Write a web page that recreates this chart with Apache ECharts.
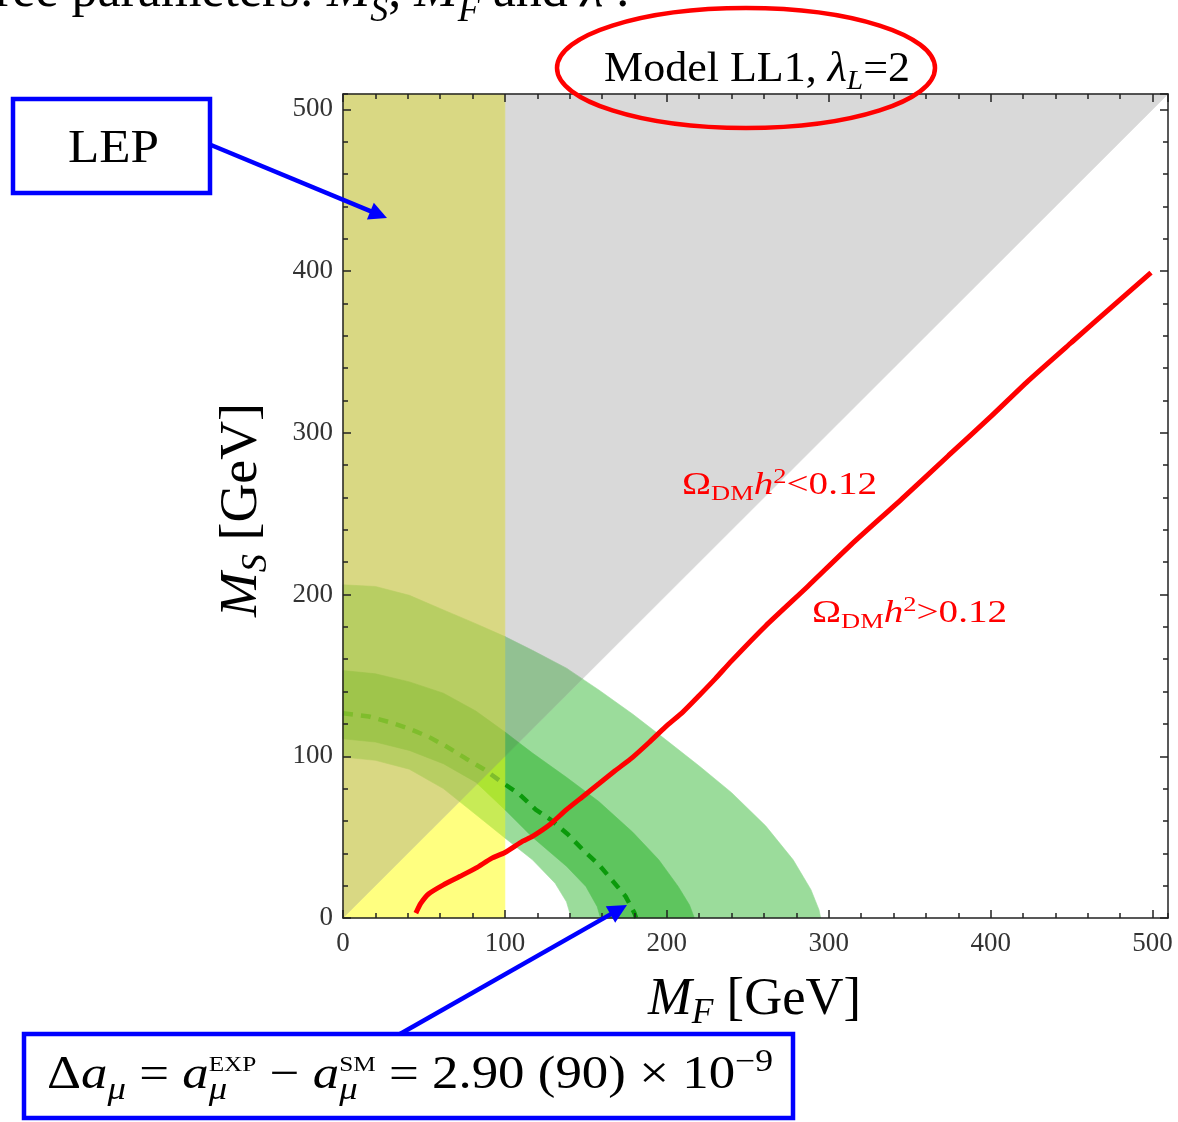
<!DOCTYPE html>
<html><head><meta charset="utf-8">
<script src="https://cdn.jsdelivr.net/npm/echarts@6/dist/echarts.min.js"></script>
<style>html,body{margin:0;padding:0;background:#fff}#c{width:1178px;height:1122px}</style>
</head><body><div id="c"></div>
<script>
// ---------------- data ----------------
const AXIS_MAX = 509.5;
const LEP_MAX = 100;                       // LEP bound on M_F
const majorTicks = [0, 100, 200, 300, 400, 500];
const minorTicks = [0,20,40,60,80,100,120,140,160,180,200,220,240,260,280,300,320,340,360,380,400,420,440,460,480,500];
// Delta a_mu bands, boundaries as [M_F, M_S]
const outer2s = [[0,206],[20,205],[41,199.5],[62,190.5],[82,182],[100,174],[117,165.5],[138,154.5],[158,141],[179,126],[199,110.5],[220,94],[240,77.5],[261,57],[278,36],[289,17.5],[294,5],[295,0]];
const inner2s = [[0,99.5],[20,97.5],[41,92],[62,80],[72,72],[82,64],[100,49.5],[117,36],[131,21.5],[138,10],[141,0]];
const outer1s = [[0,153],[20,151],[41,146],[62,139],[82,128],[100,115],[117,102],[138,87],[158,72],[179,53],[195,36],[207,19.5],[214,8],[217,0]];
const inner1s = [[0,110.8],[20,108.8],[41,103.6],[62,95.4],[82,84],[100,67],[117,50],[138,32],[150,19.5],[157,7],[159,0]];
const centralLine = [[0,126.6],[16,124.6],[29,121],[41,117],[53,112],[64,106],[76,98.5],[87,92],[98,84],[109,76.5],[119,67],[128,61],[139,51.6],[148,42.3],[158,33],[166,23.6],[174.5,13.4],[180,3],[181,0]];
// relic density curve Omega h^2 = 0.12
const relicCurve = [[45,3],[48,9],[53,15],[62,20.5],[72,25.6],[82,30.8],[92,37],[100,40.5],[111,47.5],[117,50.5],[128,58],[138,67],[148,75],[158,83],[168,91],[179,99.5],[189,108.5],[199,118],[210,127.5],[220,137.6],[230,148],[240,159],[261,180.6],[287,205],[314,231],[345,259],[374,286],[400,310],[423,332],[450,356],[475,378],[499,399]];

// ---------------- region construction ----------------
const plotRect = [[0,0],[AXIS_MAX,0],[AXIS_MAX,AXIS_MAX],[0,AXIS_MAX]];
const band2 = outer2s.concat(inner2s.slice().reverse());
const band1 = outer1s.concat(inner1s.slice().reverse());
function clip(poly, f) {
  const out = [];
  for (let i = 0; i < poly.length; i++) {
    const a = poly[i], b = poly[(i + 1) % poly.length];
    const fa = f(a), fb = f(b);
    if (fa >= 0) out.push(a);
    if ((fa >= 0) !== (fb >= 0)) {
      const t = fa / (fa - fb);
      out.push([a[0] + t * (b[0] - a[0]), a[1] + t * (b[1] - a[1])]);
    }
  }
  return out;
}
const quads = {
  white:  [p => p[0] - LEP_MAX, p => p[0] - p[1]],
  gray:   [p => p[0] - LEP_MAX, p => p[1] - p[0]],
  yellow: [p => LEP_MAX - p[0], p => p[0] - p[1]],
  olive:  [p => LEP_MAX - p[0], p => p[1] - p[0]]
};
const palettes = [
  { poly: plotRect, c: { white: '#ffffff', gray: '#d9d9d9', yellow: '#ffff80', olive: '#d9d883' } },
  { poly: band2,    c: { white: '#9bdc9b', gray: '#92c192', yellow: '#c8eb56', olive: '#b8ce63' } },
  { poly: band1,    c: { white: '#5ec55e', gray: '#5bb25b', yellow: '#ade432', olive: '#9fc54b' } }
];
const layers = [];
palettes.forEach(P => {
  Object.keys(quads).forEach(k => {
    let p = P.poly;
    quads[k].forEach(f => { p = clip(p, f); });
    if (p.length >= 3) layers.push({ poly: p, color: P.c[k] });
  });
});

// ---------------- text helpers ----------------
const SERIF = '"Liberation Serif", "Times New Roman", serif';
const cv = document.createElement('canvas').getContext('2d');
function runsGroup(runs, o) {
  let x = 0; const els = []; let ov = null;
  for (const r of runs) {
    const f = (r.italic ? 'italic ' : '') + r.size + 'px ' + SERIF;
    cv.font = f;
    cv.textBaseline = 'alphabetic';
    const w = cv.measureText(r.t).width;
    const a1 = cv.measureText('H').actualBoundingBoxAscent;
    cv.textBaseline = 'middle';
    const a2 = cv.measureText('H').actualBoundingBoxAscent;
    cv.textBaseline = 'alphabetic';
    els.push({ type: 'text', x: x, y: (r.dy || 0) - (a1 - a2) - 0.035 * r.size, z: 100,
      style: { text: r.t, font: f, fill: o.color || '#000', align: 'left', verticalAlign: 'middle' } });
    if (r.overlay) { ov = { x: x, w: w }; continue; }
    if (ov) { x = ov.x + Math.max(ov.w, w); ov = null; } else x += w;
  }
  const W = x;
  const sx = o.width ? o.width / W : 1;
  const off = o.align === 'center' ? -W / 2 : (o.align === 'right' ? -W : 0);
  els.forEach(e => { e.x += off; });
  return { type: 'group', x: o.x, y: o.y, rotation: o.rotation || 0, scaleX: sx, z: 100, children: els };
}
function arrow(x1, y1, x2, y2, len, hw, color, lw) {
  const dx = x2 - x1, dy = y2 - y1, d = Math.hypot(dx, dy), ux = dx / d, uy = dy / d;
  const bx = x2 - ux * len, by = y2 - uy * len;
  return [
    { type: 'line', z: 100, shape: { x1: x1, y1: y1, x2: bx + ux * 2, y2: by + uy * 2 }, style: { stroke: color, lineWidth: lw } },
    { type: 'polygon', z: 100, shape: { points: [[x2, y2], [bx - uy * hw, by + ux * hw], [bx + uy * hw, by - ux * hw]] }, style: { fill: color } }
  ];
}
const BLUE = '#0000ff', RED = '#ff0000';

const graphics = [
  runsGroup([
    { t: 'ree parameters: ', size: 52 }, { t: 'M', size: 52, italic: true }, { t: 'S', size: 36, italic: true, dy: 14 },
    { t: ', ', size: 52 }, { t: 'M', size: 52, italic: true }, { t: 'F', size: 36, italic: true, dy: 14 },
    { t: ' and ', size: 52 }, { t: 'λ', size: 52, italic: true }, { t: ' .', size: 52 }
  ], { x: -5, y: 8 }),
  runsGroup([
    { t: 'Model LL1, ', size: 42 }, { t: 'λ', size: 42, italic: true }, { t: 'L', size: 28, italic: true, dy: 8 }, { t: '=2', size: 42 }
  ], { x: 604, y: 82, width: 306 }),
  { type: 'ellipse', z: 100, shape: { cx: 746, cy: 68, rx: 189, ry: 60 }, style: { fill: 'transparent', stroke: RED, lineWidth: 4.5 } },
  { type: 'rect', z: 100, shape: { x: 13, y: 99, width: 197, height: 94 }, style: { fill: 'transparent', stroke: BLUE, lineWidth: 4.5 } },
  runsGroup([{ t: 'LEP', size: 47 }], { x: 113.5, y: 164, align: 'center', width: 91 }),
  ...arrow(211, 145, 387, 218, 18, 9, BLUE, 4.5),
  { type: 'rect', z: 100, shape: { x: 24, y: 1034, width: 769, height: 84 }, style: { fill: 'transparent', stroke: BLUE, lineWidth: 4.5 } },
  ...arrow(400, 1034, 627, 905, 19, 9.5, BLUE, 4.5),
  runsGroup([
    { t: 'Δ', size: 46 }, { t: 'a', size: 46, italic: true }, { t: 'μ', size: 32, italic: true, dy: 10 },
    { t: ' = ', size: 46 }, { t: 'a', size: 46, italic: true },
    { t: 'EXP', size: 22, dy: -18, overlay: true }, { t: 'μ', size: 32, italic: true, dy: 10 },
    { t: ' − ', size: 46 }, { t: 'a', size: 46, italic: true },
    { t: 'SM', size: 22, dy: -18, overlay: true }, { t: 'μ', size: 32, italic: true, dy: 10 },
    { t: ' = 2.90 (90) × 10', size: 46 }, { t: '−9', size: 31, dy: -18 }
  ], { x: 410, y: 1090, align: 'center', width: 726 }),
  runsGroup([
    { t: 'Ω', size: 31 }, { t: 'DM', size: 21, dy: 6 }, { t: 'h', size: 31, italic: true }, { t: '2', size: 21, dy: -11 }, { t: '<0.12', size: 31 }
  ], { x: 682, y: 495, width: 195, color: RED }),
  runsGroup([
    { t: 'Ω', size: 31 }, { t: 'DM', size: 21, dy: 6 }, { t: 'h', size: 31, italic: true }, { t: '2', size: 21, dy: -11 }, { t: '>0.12', size: 31 }
  ], { x: 812, y: 623, width: 195, color: RED }),
  runsGroup([
    { t: 'M', size: 52, italic: true }, { t: 'F', size: 35, italic: true, dy: 8 }, { t: ' [GeV]', size: 52 }
  ], { x: 648, y: 1016, width: 213 }),
  runsGroup([
    { t: 'M', size: 52, italic: true }, { t: 'S', size: 35, italic: true, dy: 9 }, { t: ' [GeV]', size: 52 }
  ], { x: 258, y: 617, width: 214, rotation: Math.PI / 2 })
];

// ---------------- axes ----------------
const AX = { color: '#222', width: 1.5 };
const labelStyle = { fontFamily: SERIF, fontSize: 27, color: '#333' };
function axis(kind, position, major) {
  return {
    type: 'value', position: position, min: 0, max: AXIS_MAX, interval: major ? 100 : 20, z: 10,
    axisLine: { show: major, onZero: false, lineStyle: AX },
    axisTick: { show: true, inside: true, length: major ? 8 : 5, lineStyle: AX },
    axisLabel: { show: major && (position === 'bottom' || position === 'left'),
      margin: kind === 'x' ? 12 : 10, showMaxLabel: false,
      formatter: v => (majorTicks.indexOf(v) >= 0 ? String(v) : ''), ...labelStyle },
    splitLine: { show: false }, minorTick: { show: false }
  };
}

// dashed central line: lighter where it lies under the LEP band (pixel x of M_F = 100)
const GRID_L = 343, GRID_W = 825;
const lepFrac = LEP_MAX / AXIS_MAX;
const dashColor = {
  type: 'linear', x: GRID_L, y: 0, x2: GRID_L + GRID_W, y2: 0, global: true,
  colorStops: [
    { offset: 0, color: '#7fbd2c' }, { offset: lepFrac, color: '#7fbd2c' },
    { offset: lepFrac, color: '#0b9a0b' }, { offset: 1, color: '#0b9a0b' }
  ]
};

const chart = echarts.init(document.getElementById('c'), null, { renderer: 'canvas' });
chart.setOption({
  animation: false,
  backgroundColor: '#ffffff',
  grid: { left: GRID_L, top: 94, width: GRID_W, height: 824, containLabel: false },
  xAxis: [axis('x', 'bottom', true), axis('x', 'bottom', false), axis('x', 'top', true), axis('x', 'top', false)],
  yAxis: [axis('y', 'left', true), axis('y', 'left', false), axis('y', 'right', true), axis('y', 'right', false)],
  series: [
    {
      type: 'custom', xAxisIndex: 0, yAxisIndex: 0, silent: true, z: 1,
      data: layers.map((l, i) => [i, 0]),
      renderItem: (params, api) => {
        const L = layers[params.dataIndex];
        return { type: 'polygon', shape: { points: L.poly.map(p => api.coord(p)) },
          style: { fill: L.color, stroke: L.color, lineWidth: 0.6 } };
      }
    },
    {
      type: 'line', xAxisIndex: 0, yAxisIndex: 0, data: centralLine, showSymbol: false, silent: true, z: 3,
      lineStyle: { width: 4.5, type: [10, 8], color: dashColor }
    },
    {
      type: 'line', xAxisIndex: 0, yAxisIndex: 0, data: relicCurve, showSymbol: false, silent: true, z: 4,
      smooth: 0.2, lineStyle: { width: 5, color: RED }, itemStyle: { color: RED }
    }
  ],
  graphic: graphics
});
</script></body></html>
